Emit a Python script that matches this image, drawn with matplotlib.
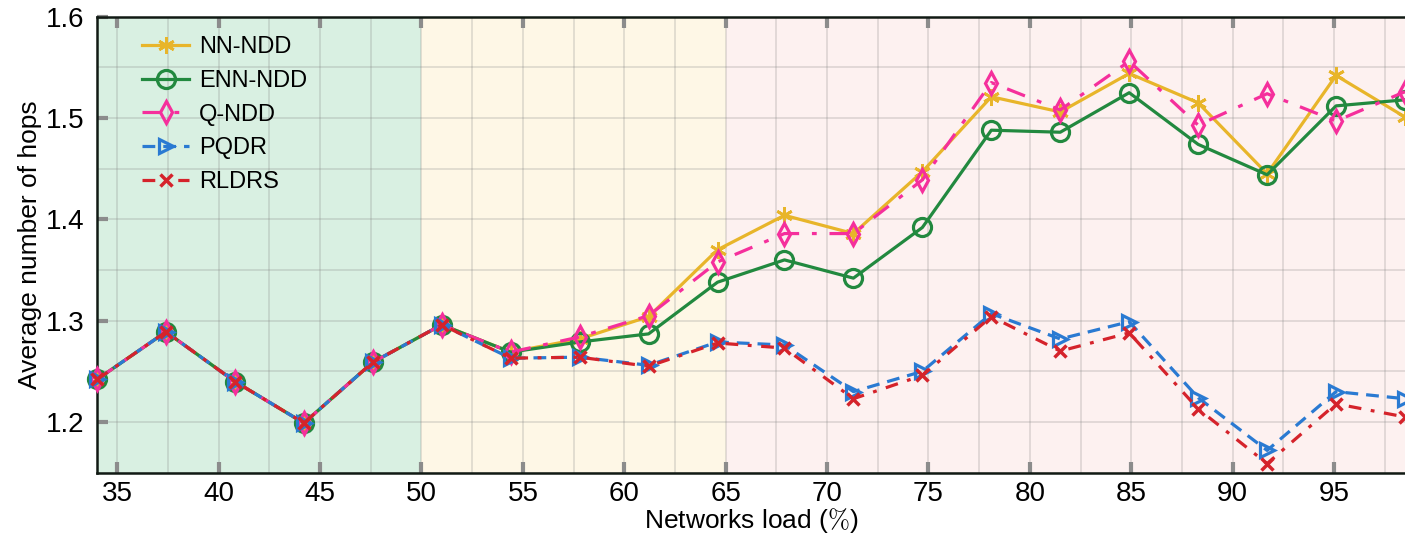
import matplotlib
matplotlib.use("Agg")
import matplotlib.pyplot as plt
from matplotlib.ticker import MultipleLocator

# network load (%) for each measurement
load = [34.0, 37.4, 40.8, 44.2, 47.6, 51.0, 54.4, 57.8, 61.2, 64.6,
        67.9, 71.3, 74.7, 78.1, 81.5, 84.9, 88.3, 91.7, 95.1, 98.5]

nn_ndd = [1.242, 1.289, 1.240, 1.199, 1.259, 1.296, 1.269, 1.282, 1.304, 1.370,
          1.404, 1.386, 1.447, 1.521, 1.506, 1.544, 1.515, 1.445, 1.542, 1.501]
enn_ndd = [1.242, 1.289, 1.240, 1.199, 1.259, 1.296, 1.269, 1.279, 1.287, 1.338,
           1.360, 1.342, 1.392, 1.488, 1.486, 1.525, 1.474, 1.444, 1.512, 1.518]
q_ndd = [1.242, 1.289, 1.240, 1.199, 1.259, 1.296, 1.269, 1.284, 1.305, 1.358,
         1.386, 1.386, 1.439, 1.535, 1.508, 1.556, 1.493, 1.524, 1.497, 1.526]
pqdr = [1.242, 1.289, 1.240, 1.199, 1.259, 1.296, 1.263, 1.264, 1.256, 1.279,
        1.276, 1.230, 1.250, 1.307, 1.282, 1.299, 1.224, 1.172, 1.230, 1.223]
rldrs = [1.242, 1.289, 1.240, 1.199, 1.259, 1.296, 1.263, 1.264, 1.255, 1.278,
         1.273, 1.223, 1.246, 1.304, 1.270, 1.288, 1.213, 1.159, 1.218, 1.205]

# shaded load regimes
regions = [(34.0, 50.0), (50.0, 65.0), (65.0, 98.5)]
region_colors = ["#d9f0e2", "#fef7e6", "#fdf1f0"]

plt.rcParams.update({
    "font.family": ["Liberation Sans", "DejaVu Sans"],
    "mathtext.fontset": "cm",
    "font.size": 19,
})

fig = plt.figure(figsize=(14.05, 5.36), dpi=100)
ax = fig.add_axes([97 / 1405, 63.3 / 536, 1 - 97 / 1405, (472.7 - 16.7) / 536])

for (x0, x1), c in zip(regions, region_colors):
    ax.axvspan(x0, x1, color=c, zorder=0, lw=0)

lw = 2.3
ax.plot(load, nn_ndd, "-", color="#e8b52a", lw=lw, marker=(6, 2, 0),
        ms=12, mew=2.0, label="NN-NDD", clip_on=False, zorder=3)
ax.plot(load, enn_ndd, "-", color="#22893f", lw=lw, marker="o", ms=13,
        mfc="none", mew=2.3, label="ENN-NDD", clip_on=False, zorder=3)
ax.plot(load, q_ndd, color="#f52f9c", lw=lw, dashes=(6, 4, 1.5, 4),
        marker="d", ms=11, mfc="none", mew=2.3, label="Q-NDD",
        clip_on=False, zorder=3)
ax.plot(load, pqdr, color="#2a7ad2", lw=lw, dashes=(4, 2.5), marker=">",
        ms=10, mfc="none", mew=2.3, label="PQDR", clip_on=False, zorder=3)
ax.plot(load, rldrs, color="#d5232b", lw=lw, dashes=(4, 3, 1.2, 3),
        marker="x", ms=9, mew=2.5, label="RLDRS", clip_on=False, zorder=3)

ax.set_xlim(34.0, 98.5)
ax.set_ylim(1.15, 1.6)
ax.xaxis.set_major_locator(MultipleLocator(5))
ax.xaxis.set_minor_locator(MultipleLocator(2.5))
ax.yaxis.set_minor_locator(MultipleLocator(0.05))
ax.set_yticks([1.2, 1.3, 1.4, 1.5, 1.6])
ax.set_yticklabels(["1.2", "1.3", "1.4", "1.5", "1.6"])

ax.grid(which="both", color="0.5", alpha=0.22, lw=1.4, zorder=1)
ax.set_axisbelow(True)
ax.tick_params(which="major", direction="in", length=8, width=3,
               color="0.55", top=True, labelsize=20)
ax.tick_params(axis="x", pad=6)
ax.tick_params(axis="y", pad=9)
ax.tick_params(which="minor", direction="in", length=0)

for s in ("left", "bottom", "top"):
    ax.spines[s].set_linewidth(1.8)
    ax.spines[s].set_color("#111a14")
ax.spines["right"].set_visible(False)

ax.set_xlabel(r"Networks load ($\%$)", fontsize=19, labelpad=-1)
ax.set_ylabel("Average number of hops", fontsize=19)
# label sits between the tick labels and the figure edge
ax.yaxis.set_label_coords(-0.042, 0.5)

ax.legend(loc="upper left", bbox_to_anchor=(142 / 1405, 1 - 36 / 536),
          bbox_transform=fig.transFigure, frameon=False, fontsize=17,
          handlelength=2.0, handletextpad=0.4, labelspacing=0.5,
          borderpad=0, borderaxespad=0)

fig.savefig("out.png", dpi=100)
